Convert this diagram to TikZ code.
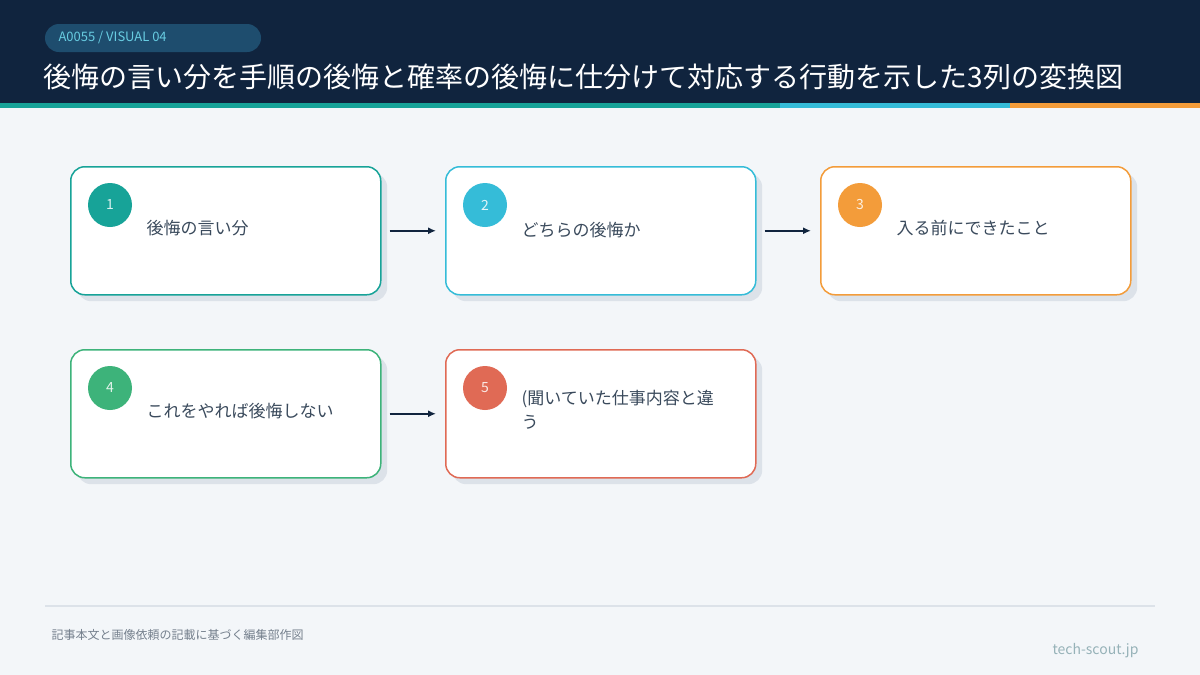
\documentclass[tikz,border=0pt]{standalone}
\usepackage{fontspec}
\setmainfont{Noto Sans CJK JP}[BoldFont={Noto Sans CJK JP}]
\usetikzlibrary{positioning, arrows.meta}
\definecolor{navy}{HTML}{10243E}
\definecolor{pill}{HTML}{1E4D6E}
\definecolor{bgc}{HTML}{F3F6F9}
\definecolor{teal}{HTML}{17A398}
\definecolor{sky}{HTML}{35BCD8}
\definecolor{amber}{HTML}{F39C3A}
\definecolor{leaf}{HTML}{3DB37A}
\definecolor{coral}{HTML}{E06A55}
\definecolor{ink}{HTML}{3A4A5C}
\definecolor{shade}{HTML}{DCE2E9}
\tikzset{
  card/.style={draw=#1, line width=1.5pt, fill=white, rounded corners=14pt,
    minimum width=310pt, minimum height=128pt, anchor=north west},
  shadow/.style={fill=shade, rounded corners=14pt, minimum width=310pt,
    minimum height=128pt, anchor=north west},
  badge/.style={circle, fill=#1, minimum size=44pt, inner sep=0pt,
    text=white!85!#1, font=\fontsize{14}{14}\selectfont},
  label/.style={anchor=west, text=ink, font=\fontsize{17}{24}\selectfont, align=left},
  flow/.style={-{Latex[length=8pt,width=7pt]}, line width=2.4pt, draw=navy}
}
\begin{document}
\begin{tikzpicture}[x=1pt,y=-1pt]
  % background and header
  \useasboundingbox (0,0) rectangle (1200,675);
  \fill[bgc] (0,0) rectangle (1200,675);
  \fill[navy] (0,0) rectangle (1200,103);
  \fill[teal] (0,103) rectangle (780,108);
  \fill[sky] (780,103) rectangle (1010,108);
  \fill[amber] (1010,103) rectangle (1200,108);
  \fill[pill, rounded corners=14pt] (45,24) rectangle (261,52);
  \node[anchor=west, text=sky!75!white, font=\fontsize{13}{13}\selectfont] (tag) at (55,38) {A0055 / VISUAL 04};
  \node[anchor=west, text=white, font=\fontsize{28}{28}\selectfont] (title) at (40,77)
    {後悔の言い分を手順の後悔と確率の後悔に仕分けて対応する行動を示した3列の変換図};

  % cards
  \foreach \x/\y/\c/\n in {70/166/teal/1, 445/166/sky/2, 820/166/amber/3,
      70/349/leaf/4, 445/349/coral/5} {
    \node[shadow] (s\n) at (\x+7,\y+7) {};
    \node[card=\c] (c\n) at (\x,\y) {};
    \node[badge=\c] (b\n) at (\x+40,\y+39) {\n};
  }
  \node[label] (t1) at (143,228) {後悔の言い分};
  \node[label] (t2) at (518,230) {どちらの後悔か};
  \node[label] (t3) at (893,228) {入る前にできたこと};
  \node[label] (t4) at (143,411) {これをやれば後悔しない};
  \node[label] (t5) at (518,410) {(聞いていた仕事内容と違\\う};

  % arrows
  \draw[flow] ([xshift=8pt,yshift=-0pt]c1.east) -- ([xshift=-9pt]c2.west);
  \draw[flow] ([xshift=8pt]c2.east) -- ([xshift=-9pt]c3.west);
  \draw[flow] ([xshift=8pt]c4.east) -- ([xshift=-9pt]c5.west);

  % footer
  \draw[draw=shade, line width=1.5pt] (45,606) -- (1155,606);
  \node[anchor=west, text=ink!70, font=\fontsize{12}{12}\selectfont] (src) at (48,635) {記事本文と画像依頼の記載に基づく編集部作図};
  \node[anchor=east, text=sky!30!gray!70, font=\fontsize{14}{14}\selectfont] (site) at (1142,651) {tech-scout.jp};
\end{tikzpicture}
\end{document}
